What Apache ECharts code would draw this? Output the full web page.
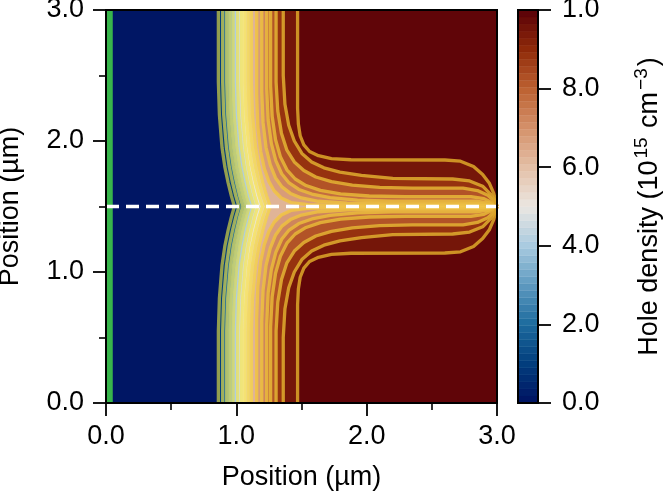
<!DOCTYPE html>
<html><head><meta charset="utf-8">
<script src="https://cdn.jsdelivr.net/npm/echarts@6/dist/echarts.min.js"></script>
<style>html,body{margin:0;padding:0;background:#fff}#c{width:665px;height:493px}</style>
</head><body><div id="c"></div>
<script>
// ---------------- data ----------------
const xTickLabels = ['0.0', '1.0', '2.0', '3.0'];
const yTickLabels = ['0.0', '1.0', '2.0', '3.0'];
const cbTickValues = [0, 0.2, 0.4, 0.6, 0.8, 1.0];
const cbTickLabels = ['0.0', '2.0', '4.0', '6.0', '8.0', '1.0'];
const cbBandCount = 56;
const contactX = 0.025;      // green contact line (µm)
const centerY = 1.5;         // dashed white line (µm)

// Iso-density contours that cross the centre line (upper half, y from 3 to 1.5; field is mirror-symmetric about y = 1.5)
const crossLevels = [0.05, 0.15, 0.25, 0.32, 0.38, 0.44, 0.48, 0.52, 0.56, 0.60];
const crossUpper = [
  [[0.862,3],[0.862,2.45],[0.870,2.2],[0.890,1.95],[0.912,1.8],[0.937,1.68],[0.962,1.58],[0.985,1.5]],
  [[0.895,3],[0.895,2.45],[0.903,2.2],[0.924,1.95],[0.946,1.8],[0.971,1.68],[0.996,1.58],[1.020,1.5]],
  [[0.926,3],[0.926,2.45],[0.934,2.2],[0.955,1.95],[0.977,1.8],[1.002,1.68],[1.026,1.58],[1.050,1.5]],
  [[0.950,3],[0.950,2.45],[0.958,2.2],[0.979,1.95],[1.001,1.8],[1.026,1.68],[1.051,1.58],[1.075,1.5]],
  [[0.975,3],[0.975,2.45],[0.983,2.2],[1.004,1.95],[1.026,1.8],[1.051,1.68],[1.076,1.58],[1.100,1.5]],
  [[1.010,3],[1.010,2.45],[1.018,2.2],[1.039,1.95],[1.061,1.8],[1.086,1.68],[1.111,1.58],[1.135,1.5]],
  [[1.040,3],[1.040,2.45],[1.048,2.2],[1.069,1.95],[1.091,1.8],[1.116,1.68],[1.141,1.58],[1.165,1.5]],
  [[1.065,3],[1.065,2.45],[1.074,2.2],[1.096,1.95],[1.120,1.8],[1.147,1.68],[1.174,1.58],[1.200,1.5]],
  [[1.090,3],[1.090,2.45],[1.099,2.2],[1.122,1.95],[1.147,1.8],[1.175,1.68],[1.203,1.58],[1.230,1.5]],
  [[1.115,3],[1.115,2.45],[1.124,2.2],[1.148,1.95],[1.174,1.8],[1.203,1.68],[1.232,1.58],[1.260,1.5]]
];

// Iso-density contours that turn and run along the centre line to (3, 1.5) (upper half)
const turnLevels = [0.65, 0.70, 0.75, 0.80, 0.85, 0.92, 0.975];
const turnUpper = [
  [[1.156,3],[1.156,2.35],[1.165,2.11],[1.187,1.92],[1.215,1.79],[1.25,1.69],[1.29,1.62],[1.345,1.565],[1.42,1.53],[1.55,1.515],[1.8,1.509],[2.9,1.508],[2.97,1.505],[3,1.5]],
  [[1.195,3],[1.195,2.38],[1.205,2.14],[1.228,1.95],[1.26,1.82],[1.3,1.72],[1.35,1.65],[1.415,1.6],[1.5,1.565],[1.63,1.54],[1.85,1.525],[2.2,1.52],[2.88,1.52],[2.96,1.513],[3,1.5]],
  [[1.233,3],[1.233,2.4],[1.244,2.16],[1.269,1.98],[1.303,1.85],[1.348,1.75],[1.405,1.68],[1.48,1.63],[1.58,1.595],[1.72,1.568],[1.93,1.548],[2.2,1.541],[2.85,1.54],[2.94,1.527],[3,1.5]],
  [[1.263,3],[1.263,2.42],[1.275,2.19],[1.301,2.01],[1.338,1.88],[1.388,1.78],[1.452,1.71],[1.535,1.66],[1.645,1.623],[1.8,1.597],[2.02,1.58],[2.3,1.576],[2.8,1.576],[2.9,1.56],[2.96,1.53],[3,1.5]],
  [[1.305,3],[1.305,2.45],[1.318,2.23],[1.346,2.06],[1.388,1.93],[1.445,1.84],[1.518,1.775],[1.61,1.725],[1.73,1.69],[1.89,1.663],[2.1,1.646],[2.35,1.64],[2.74,1.64],[2.85,1.622],[2.93,1.585],[2.98,1.54],[3,1.5]],
  [[1.36,3],[1.36,2.5],[1.373,2.28],[1.402,2.12],[1.445,2.0],[1.503,1.905],[1.578,1.84],[1.672,1.795],[1.795,1.762],[1.96,1.737],[2.2,1.715],[2.66,1.71],[2.79,1.695],[2.89,1.655],[2.95,1.595],[2.99,1.54],[3,1.5]],
  [[1.47,3],[1.47,2.25],[1.476,2.13],[1.49,2.04],[1.518,1.97],[1.562,1.92],[1.63,1.888],[1.73,1.866],[1.88,1.857],[2.6,1.855],[2.72,1.846],[2.82,1.805],[2.89,1.745],[2.94,1.68],[2.975,1.6],[3,1.5]]
];

// ---------------- styling helpers ----------------
const FONT = "'Liberation Sans', Arial, Helvetica, sans-serif";
const FS = 27;
const vikStops = ['#001261','#023e7d','#1d6b9e','#5e9ac0','#a9cbe0','#ebe6e1','#e4bfa6','#d4916a','#bd6131','#8f2a09','#590008'];
function hex2rgb(h){ return [parseInt(h.substr(1,2),16), parseInt(h.substr(3,2),16), parseInt(h.substr(5,2),16)]; }
function mixStops(stops, t){
  t = Math.max(stops[0][0], Math.min(stops[stops.length-1][0], t));
  for (let i = 0; i < stops.length - 1; i++) {
    const a = stops[i], b = stops[i+1];
    if (t <= b[0]) {
      const f = (t - a[0]) / (b[0] - a[0]);
      const ca = hex2rgb(a[1]), cb = hex2rgb(b[1]);
      return 'rgb(' + ca.map((v,k)=>Math.round(v + (cb[k]-v)*f)).join(',') + ')';
    }
  }
  return stops[stops.length-1][1];
}
const vikPos = vikStops.map((c,i)=>[i/10, c]);
function vik(t){ return mixStops(vikPos, t); }
const lineStops = [[0,'#a0a844'],[0.35,'#cdd46e'],[0.5,'#f7e86a'],[0.65,'#f0c445'],[1,'#d9a226']];
function lineColor(L){ return mixStops(lineStops, L); }

const mirror = p => [p[0], 2*centerY - p[1]];

// ---------------- build filled regions (painter's order, increasing level) ----------------
const allLevels = crossLevels.concat(turnLevels);
function bandColor(i){ const lo = allLevels[i]; const hi = i + 1 < allLevels.length ? allLevels[i+1] : 1; return vik((lo + hi) / 2); }
const polys = [];
polys.push({pts: [[0,0],[3,0],[3,3],[0,3]], color: vik(0.009)});
const contourLines = [];
crossUpper.forEach((up, i) => {
  const low = up.slice(0, -1).reverse().map(mirror);
  polys.push({pts: up.concat(low, [[3,0],[3,3]]), color: bandColor(i)});
  contourLines.push({pts: up.concat(low), color: lineColor(crossLevels[i])});
});
turnUpper.forEach((up, j) => {
  const i = crossLevels.length + j;
  const low = up.map(mirror);
  polys.push({pts: up.concat([[3,3]]), color: bandColor(i)});
  polys.push({pts: low.concat([[3,0]]), color: bandColor(i)});
  contourLines.push({pts: up, color: lineColor(turnLevels[j])});
  contourLines.push({pts: low, color: lineColor(turnLevels[j])});
});

const cbBands = [];
for (let k = 0; k < cbBandCount; k++) cbBands.push([k / cbBandCount, (k + 1) / cbBandCount, vik((k + 0.5) / cbBandCount)]);

// ---------------- chart ----------------
const chart = echarts.init(document.getElementById('c'));
const axisTxt = {fontSize: FS, fontFamily: FONT, color: '#000'};
const series = [];
series.push({
  type: 'custom', xAxisIndex: 0, yAxisIndex: 0, clip: true, silent: true,
  data: polys.map(() => [0, 0]),
  renderItem: (params, api) => {
    const p = polys[params.dataIndex];
    return {type: 'polygon', shape: {points: p.pts.map(q => api.coord(q))},
      style: {fill: p.color, stroke: p.color, lineWidth: 0.6}};
  }
});
contourLines.forEach(c => {
  series.push({type: 'line', xAxisIndex: 0, yAxisIndex: 0, data: c.pts, symbol: 'none', clip: true, silent: true,
    lineStyle: {color: c.color, width: 3.3, opacity: 0.88}});
});
series.push({type: 'line', xAxisIndex: 0, yAxisIndex: 0, data: [[contactX, 0], [contactX, 3]], symbol: 'none', clip: true,
  lineStyle: {color: '#38b54b', width: 7}});
series.push({type: 'line', xAxisIndex: 0, yAxisIndex: 0, data: [[0, centerY], [3, centerY]], symbol: 'none', clip: true,
  lineStyle: {color: '#ffffff', width: 3.5, type: [13, 7]}});
series.push({type: 'custom', xAxisIndex: 0, yAxisIndex: 0, data: [[0, 0]], silent: true, z: 5,
  renderItem: (params, api) => {
    const a = api.coord([0, 3]), b = api.coord([3, 0]);
    return {type: 'rect', shape: {x: a[0], y: a[1], width: b[0]-a[0], height: b[1]-a[1]},
      style: {fill: null, stroke: '#000', lineWidth: 2}};
  }});
series.push({type: 'custom', xAxisIndex: 1, yAxisIndex: 1, data: cbBands.map(b => [0, b[0]]), silent: true,
  renderItem: (params, api) => {
    const b = cbBands[params.dataIndex];
    const a = api.coord([0, b[1]]), c = api.coord([1, b[0]]);
    return {type: 'rect', shape: {x: a[0], y: a[1], width: c[0]-a[0], height: c[1]-a[1]},
      style: {fill: b[2], stroke: b[2], lineWidth: 0.4}};
  }});
series.push({type: 'custom', xAxisIndex: 1, yAxisIndex: 1, data: [[0, 0]], silent: true, z: 5,
  renderItem: (params, api) => {
    const a = api.coord([0, 1]), b = api.coord([1, 0]);
    return {type: 'rect', shape: {x: a[0], y: a[1], width: b[0]-a[0], height: b[1]-a[1]},
      style: {fill: null, stroke: '#000', lineWidth: 2}};
  }});

const option = {
  animation: false,
  backgroundColor: '#ffffff',
  grid: [
    {left: 106, top: 10, width: 391, height: 393, containLabel: false, outerBoundsMode: 'none'},
    {left: 518, top: 10, width: 20, height: 393, containLabel: false, outerBoundsMode: 'none'}
  ],
  xAxis: [
    {type: 'value', gridIndex: 0, min: 0, max: 3, interval: 1, z: 10,
      axisLine: {show: true, onZero: false, lineStyle: {color: '#000', width: 2}},
      axisTick: {show: true, length: 13, lineStyle: {color: '#000', width: 1.8}},
      minorTick: {show: true, splitNumber: 2, length: 7, lineStyle: {color: '#000', width: 1.6}},
      splitLine: {show: false}, minorSplitLine: {show: false},
      axisLabel: Object.assign({margin: 20, formatter: v => xTickLabels[Math.round(v)]}, axisTxt),
      name: 'Position (µm)', nameLocation: 'middle', nameGap: 61, nameTextStyle: axisTxt},
    {type: 'value', gridIndex: 1, min: 0, max: 1, show: false}
  ],
  yAxis: [
    {type: 'value', gridIndex: 0, min: 0, max: 3, interval: 1, z: 10,
      axisLine: {show: true, onZero: false, lineStyle: {color: '#000', width: 2}},
      axisTick: {show: true, length: 13, lineStyle: {color: '#000', width: 1.8}},
      minorTick: {show: true, splitNumber: 2, length: 7, lineStyle: {color: '#000', width: 1.6}},
      splitLine: {show: false}, minorSplitLine: {show: false},
      axisLabel: Object.assign({margin: 22, formatter: v => yTickLabels[Math.round(v)]}, axisTxt),
      name: 'Position (µm)', nameLocation: 'middle', nameGap: 82, nameTextStyle: axisTxt},
    {type: 'value', gridIndex: 1, min: 0, max: 1, interval: 0.2, position: 'right', z: 10,
      axisLine: {show: true, onZero: false, lineStyle: {color: '#000', width: 2}},
      axisTick: {show: true, length: 13, lineStyle: {color: '#000', width: 1.8}},
      splitLine: {show: false},
      axisLabel: Object.assign({margin: 24, formatter: v => cbTickLabels[Math.round(v * 5)]}, axisTxt),
      name: '{a|Hole density (10}{s|15}{a| cm}{s|−3}{a|)}', nameLocation: 'middle', nameRotate: 90, nameGap: 94,
      nameTextStyle: {fontSize: FS, fontFamily: FONT, color: '#000',
        rich: {a: {fontSize: FS, fontFamily: FONT, color: '#000'},
               s: {fontSize: 19, fontFamily: FONT, color: '#000', padding: [0, 2, 16, 2]}}}}
  ],
  series: series
};
chart.setOption(option);
</script>
</body></html>
